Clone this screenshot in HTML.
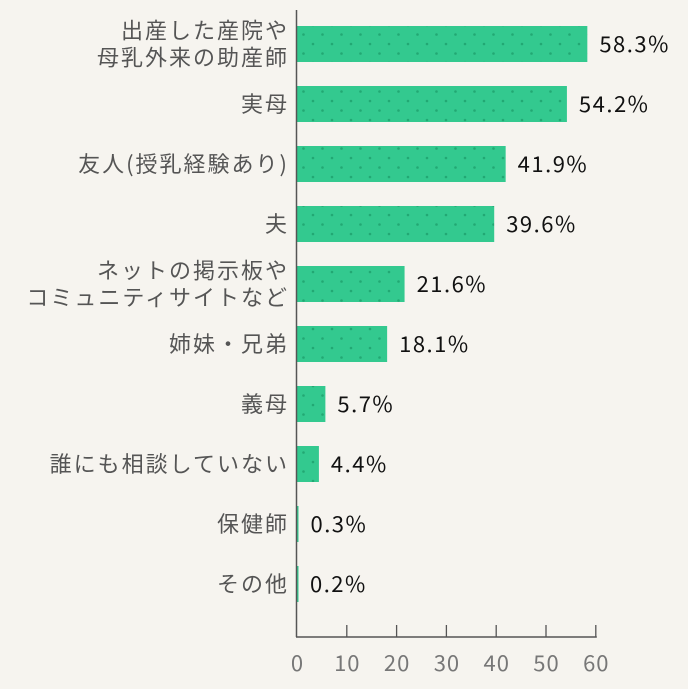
<!DOCTYPE html>
<html><head><meta charset="utf-8"><style>
body{margin:0;background:#f6f4ef;}
svg{display:block;font-family:"Noto Sans CJK JP","Liberation Sans",sans-serif;}
</style></head><body>
<svg width="688" height="689" viewBox="0 0 688 689">
<defs>
<pattern id="dots" width="19" height="19" patternUnits="userSpaceOnUse" x="5" y="2">
<rect width="19" height="19" fill="#33c98f"/>
<circle cx="4" cy="4" r="1.3" fill="#22a873"/>
<circle cx="13.5" cy="13.5" r="1.3" fill="#22a873"/>
</pattern>
</defs>
<g id="bars"></g>
<g id="axis"></g>
</svg>
<script>
const categories=[["出産した産院や","母乳外来の助産師"],["実母"],["友人(授乳経験あり)"],["夫"],["ネットの掲示板や","コミュニティサイトなど"],["姉妹・兄弟"],["義母"],["誰にも相談していない"],["保健師"],["その他"]];
const values=[58.3,54.2,41.9,39.6,21.6,18.1,5.7,4.4,0.3,0.2];
const ticks=[0,10,20,30,40,50,60];
const NS="http://www.w3.org/2000/svg";
const x0=297,pxPer=4.98,yTop=44,step=60,bh=36,axisBottom=637;
const X=v=>x0+v*pxPer;
const Y=i=>yTop+i*step;
const bars=document.getElementById('bars'),axis=document.getElementById('axis');
function mk(tag,attrs,parent,text){const e=document.createElementNS(NS,tag);for(const k in attrs)e.setAttribute(k,attrs[k]);if(text!==undefined)e.textContent=text;parent.appendChild(e);return e;}
values.forEach((v,i)=>{
 const cy=Y(i);
 const r=mk('rect',{x:x0,y:cy-bh/2,width:Math.max(v*pxPer,1.5),height:bh,fill:'url(#dots)'},bars);
 
 
 const t=mk('text',{x:X(v)+12,y:cy+8,'font-size':22,'letter-spacing':1.5,fill:'#111'},bars,v.toFixed(1)+'%');
 
 
 const lines=categories[i];
 const lt=mk('text',{x:289,'text-anchor':'end','font-size':22,'letter-spacing':2,fill:'#555'},bars);
 
 
 lines.forEach((l,j)=>{mk('tspan',{x:289,y:cy+8+(j-(lines.length-1)/2)*27},lt,l);});
});
const yl=mk('line',{x1:x0-0.5,y1:10,x2:x0-0.5,y2:axisBottom,stroke:'#555','stroke-width':1.5},axis);


const xl=mk('line',{x1:x0-1,y1:axisBottom,x2:X(60)+1,y2:axisBottom,stroke:'#555','stroke-width':1.5},axis);


ticks.forEach(t=>{
 if(t>0){const tk=mk('line',{x1:X(t),y1:axisBottom-12,x2:X(t),y2:axisBottom,stroke:'#555','stroke-width':1.3},axis);
 
 }
 const tl=mk('text',{x:X(t)+0.5,y:671,'text-anchor':'middle','font-size':22,'letter-spacing':1,fill:'#777'},axis,String(t));
 
 
});
</script>
</body></html>
